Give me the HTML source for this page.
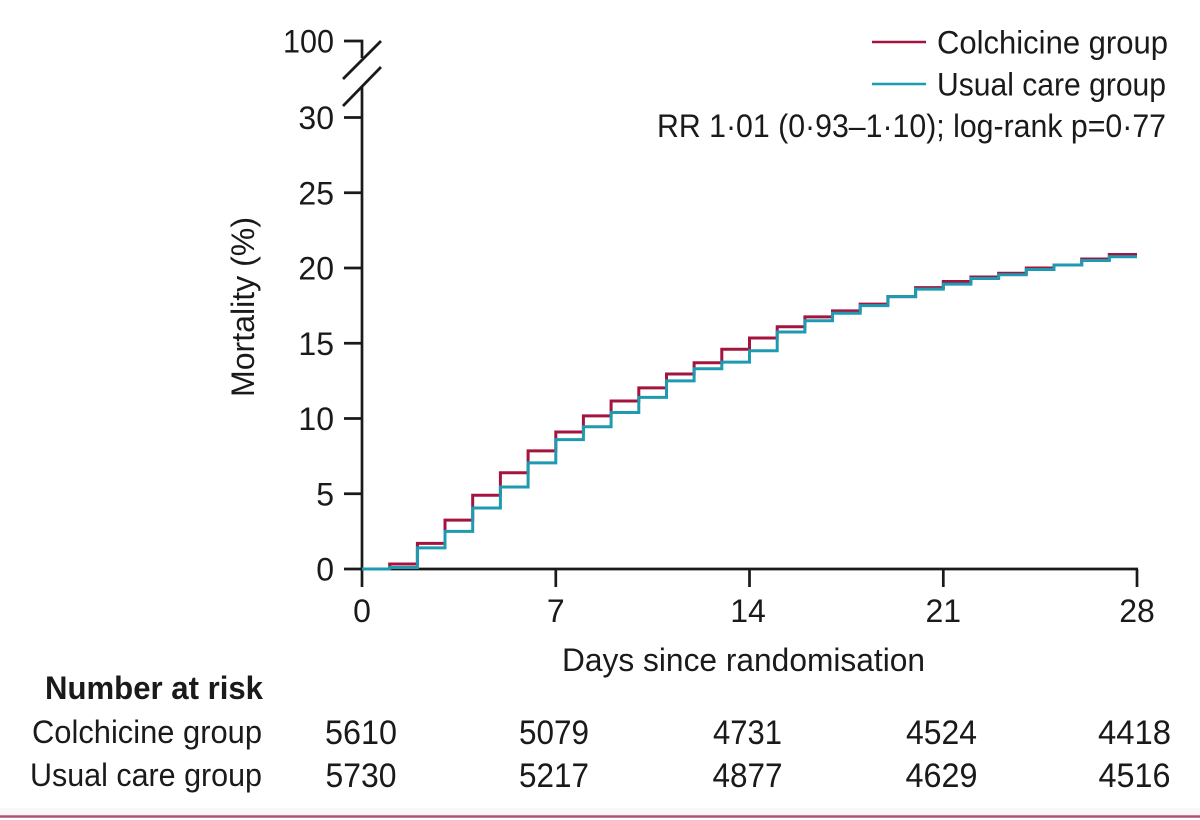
<!DOCTYPE html>
<html>
<head>
<meta charset="utf-8">
<style>
  html, body { margin: 0; padding: 0; background: #ffffff; }
  svg { display: block; }
  text { font-family: "Liberation Sans", "DejaVu Sans", sans-serif; fill: #1a1a1a; }
</style>
</head>
<body>
<svg width="1200" height="820" viewBox="0 0 1200 820" xmlns="http://www.w3.org/2000/svg">
  <rect x="0" y="0" width="1200" height="820" fill="#ffffff"/>

  <!-- Axes -->
  <g stroke="#1a1a1a" stroke-width="2.7" fill="none">
    <path d="M344 41 H362 V58"/>
    <line x1="343" y1="79" x2="381" y2="41"/>
    <line x1="343" y1="106" x2="381" y2="67"/>
    <line x1="362" y1="86" x2="362" y2="569"/>
    <line x1="344" y1="117.5" x2="362" y2="117.5"/>
    <line x1="344" y1="192.75" x2="362" y2="192.75"/>
    <line x1="344" y1="268" x2="362" y2="268"/>
    <line x1="344" y1="343.25" x2="362" y2="343.25"/>
    <line x1="344" y1="418.5" x2="362" y2="418.5"/>
    <line x1="344" y1="493.75" x2="362" y2="493.75"/>
    <line x1="344" y1="569" x2="1138" y2="569"/>
    <line x1="362" y1="569" x2="362" y2="587"/>
    <line x1="555.8" y1="569" x2="555.8" y2="587"/>
    <line x1="749.5" y1="569" x2="749.5" y2="587"/>
    <line x1="943.3" y1="569" x2="943.3" y2="587"/>
    <line x1="1137" y1="569" x2="1137" y2="587"/>
  </g>

  <!-- Y tick labels -->
  <g font-size="32" text-anchor="end">
    <text x="334" y="52.5" textLength="51" lengthAdjust="spacingAndGlyphs">100</text>
    <text x="334" y="129">30</text>
    <text x="334" y="204.25">25</text>
    <text x="334" y="279.5">20</text>
    <text x="334" y="354.75">15</text>
    <text x="334" y="430">10</text>
    <text x="334" y="505.25">5</text>
    <text x="334" y="580.5">0</text>
  </g>

  <!-- X tick labels -->
  <g font-size="32" text-anchor="middle">
    <text x="362" y="622">0</text>
    <text x="555.8" y="622">7</text>
    <text x="748" y="622">14</text>
    <text x="943.3" y="622">21</text>
    <text x="1137" y="622">28</text>
  </g>

  <!-- Axis titles -->
  <text x="562" y="671" font-size="32" textLength="363" lengthAdjust="spacingAndGlyphs">Days since randomisation</text>
  <text transform="translate(254,307) rotate(-90)" x="0" y="0" font-size="32" text-anchor="middle" textLength="180" lengthAdjust="spacingAndGlyphs">Mortality (%)</text>

  <!-- Curves -->
  <path fill="none" stroke="#a3153f" stroke-width="3" stroke-linejoin="miter"
    d="M362 569 H389.7 V564 H417.4 V543.4 H445 V520.1 H472.7 V495.3 H500.4 V472.7 H528.1 V450.9 H555.8 V432 H583.4 V415.9 H611.1 V401 H638.8 V387.9 H666.5 V374 H694.1 V362.8 H721.8 V349.3 H749.5 V338 H777.2 V326.7 H804.9 V316.9 H832.5 V310.9 H860.2 V304.1 H887.9 V296.6 H915.6 V287.6 H943.3 V281.5 H970.9 V277 H998.6 V273.3 H1026.3 V268 H1054 V265 H1081.7 V259 H1109.3 V254.5 H1137"/>
  <path fill="none" stroke="#1e9bb1" stroke-width="3" stroke-linejoin="miter"
    d="M362 569 H389.7 V567.5 H417.4 V547.9 H445 V531.4 H472.7 V508 H500.4 V487 H528.1 V462.9 H555.8 V439.6 H583.4 V426.8 H611.1 V412.5 H638.8 V397.4 H666.5 V380.9 H694.1 V368.8 H721.8 V362.1 H749.5 V350.8 H777.2 V332 H804.9 V320.7 H832.5 V313.2 H860.2 V305.6 H887.9 V296.6 H915.6 V289.1 H943.3 V284.1 H970.9 V278.5 H998.6 V274.8 H1026.3 V269.5 H1054 V265 H1081.7 V260.5 H1109.3 V256.7 H1137"/>

  <!-- Legend -->
  <line x1="872" y1="42" x2="926" y2="42" stroke="#a3153f" stroke-width="2.6"/>
  <line x1="872" y1="84" x2="926" y2="84" stroke="#1e9bb1" stroke-width="2.6"/>
  <text x="937" y="53.5" font-size="32" textLength="231" lengthAdjust="spacingAndGlyphs">Colchicine group</text>
  <text x="937" y="95.5" font-size="32" textLength="229" lengthAdjust="spacingAndGlyphs">Usual care group</text>
  <text x="657" y="137" font-size="32" textLength="509" lengthAdjust="spacingAndGlyphs">RR 1·01 (0·93–1·10); log-rank p=0·77</text>

  <!-- Number at risk table -->
  <text x="45" y="699" font-size="32" font-weight="bold" textLength="218" lengthAdjust="spacingAndGlyphs">Number at risk</text>
  <text x="32" y="743" font-size="32" textLength="230" lengthAdjust="spacingAndGlyphs">Colchicine group</text>
  <text x="30" y="786" font-size="32" textLength="232" lengthAdjust="spacingAndGlyphs">Usual care group</text>

  <g font-size="34" text-anchor="middle">
    <text x="361" y="744" textLength="72" lengthAdjust="spacingAndGlyphs">5610</text>
    <text x="554" y="744" textLength="70" lengthAdjust="spacingAndGlyphs">5079</text>
    <text x="747.5" y="744" textLength="69" lengthAdjust="spacingAndGlyphs">4731</text>
    <text x="941.5" y="744" textLength="71" lengthAdjust="spacingAndGlyphs">4524</text>
    <text x="1134.5" y="744" textLength="73" lengthAdjust="spacingAndGlyphs">4418</text>

    <text x="361" y="787" textLength="71" lengthAdjust="spacingAndGlyphs">5730</text>
    <text x="554" y="787" textLength="70" lengthAdjust="spacingAndGlyphs">5217</text>
    <text x="747.5" y="787" textLength="70" lengthAdjust="spacingAndGlyphs">4877</text>
    <text x="941.5" y="787" textLength="72" lengthAdjust="spacingAndGlyphs">4629</text>
    <text x="1134.5" y="787" textLength="72" lengthAdjust="spacingAndGlyphs">4516</text>
  </g>

  <!-- Bottom rule -->
  <rect x="0" y="808" width="1200" height="7" fill="#fcf6f8"/>
  <line x1="0" y1="816.5" x2="1200" y2="816.5" stroke="#a85575" stroke-width="2.6"/>
</svg>
</body>
</html>
